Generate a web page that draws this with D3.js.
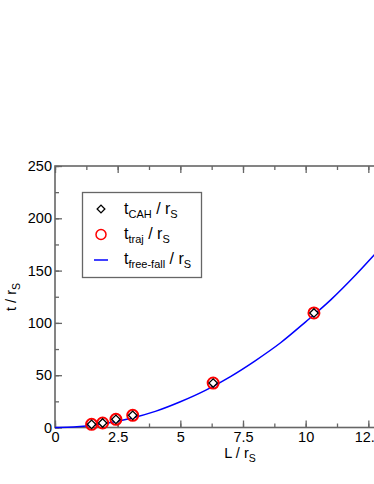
<!DOCTYPE html>
<html>
<head>
<meta charset="utf-8">
<script src="https://cdn.jsdelivr.net/npm/d3@7"></script>
<style>
  body { margin: 0; background: #fff; }
  text { font-family: "Liberation Sans", Arial, sans-serif; fill: #000; }
</style>
</head>
<body>
<div id="chart"></div>
<script>
// data
var cahL = [1.46, 1.90, 2.43, 3.10, 6.31, 10.33],
    cahT = [3.0, 4.3, 7.8, 11.6, 42.5, 109.5];
var trajL = [1.46, 1.90, 2.43, 3.10, 6.31, 10.33],
    trajT = [3.0, 4.3, 7.8, 11.6, 42.5, 109.5];
var ffL = [0, 0.5, 1, 1.5, 2, 3, 4, 5, 6, 7, 8, 9, 10, 11, 12, 13],
    ffT = [0, 0.2, 0.9, 2.1, 3.8, 8.6, 15.4, 24.6, 35.5, 48.7, 64, 81, 101, 122, 146, 172];
var xMajor = [0, 2.5, 5, 7.5, 10, 12.5, 15],
    xLabels = ["0", "2.5", "5", "7.5", "10", "12.5", "15"],
    yMajor = [0, 50, 100, 150, 200, 250];

var width = 374, height = 484;

var x = d3.scaleLinear().domain([0, 15]).range([55, 431]);
var y = d3.scaleLinear().domain([0, 250]).range([427.5, 166]);

var svg = d3.select('#chart').append('svg')
  .attr('width', width)
  .attr('height', height);

var axisColor = "#666";

function styleAxis(g) {
  g.select('.domain').remove();
  g.selectAll('.tick line').attr('stroke', axisColor).attr('stroke-width', 1.3);
  g.selectAll('.tick text').style('font-size', '14.5px').attr('fill', '#000');
}

var xMinor = d3.range(0, 15.01, 1.25);
var yMinor = d3.range(0, 250.1, 25);

// bottom axis
svg.append('g').attr('transform', 'translate(0,427.5)')
  .call(d3.axisBottom(x).tickValues(xMinor).tickSize(-4).tickFormat(''))
  .call(styleAxis);
svg.append('g').attr('transform', 'translate(0,427.5)')
  .call(d3.axisBottom(x).tickValues(xMajor).tickSize(-7).tickPadding(4)
    .tickFormat(function(d, i) { return xLabels[i]; }))
  .call(styleAxis);

// top axis
svg.append('g').attr('transform', 'translate(0,166)')
  .call(d3.axisTop(x).tickValues(xMinor).tickSize(-4).tickFormat(''))
  .call(styleAxis);
svg.append('g').attr('transform', 'translate(0,166)')
  .call(d3.axisTop(x).tickValues(xMajor).tickSize(-7).tickFormat(''))
  .call(styleAxis);

// left axis
svg.append('g').attr('transform', 'translate(55,0)')
  .call(d3.axisLeft(y).tickValues(yMinor).tickSize(-4).tickFormat(''))
  .call(styleAxis);
svg.append('g').attr('transform', 'translate(55,0)')
  .call(d3.axisLeft(y).tickValues(yMajor).tickSize(-7).tickPadding(3).tickFormat(d3.format('d')))
  .call(styleAxis);

// frame
svg.append('rect')
  .attr('x', x(0)).attr('y', y(250))
  .attr('width', x(15) - x(0)).attr('height', y(0) - y(250))
  .attr('fill', 'none')
  .attr('stroke', axisColor)
  .attr('stroke-width', 1.6);

// free-fall curve
var line = d3.line()
  .x(function(d) { return x(d[0]); })
  .y(function(d) { return y(d[1]); })
  .curve(d3.curveMonotoneX);

svg.append('path')
  .datum(ffL.map(function(l, i) { return [l, ffT[i]]; }))
  .attr('d', line)
  .attr('fill', 'none')
  .attr('stroke', '#0000ff')
  .attr('stroke-width', 1.5);

// markers
var diamond = d3.symbol().type(d3.symbolSquare).size(36)();

svg.selectAll('.traj')
  .data(trajL)
  .enter().append('circle')
  .attr('class', 'traj')
  .attr('cx', function(d) { return x(d); })
  .attr('cy', function(d, i) { return y(trajT[i]); })
  .attr('r', 5.5)
  .attr('fill', 'none')
  .attr('stroke', '#ff0000')
  .attr('stroke-width', 2);

svg.selectAll('.cah')
  .data(cahL)
  .enter().append('path')
  .attr('class', 'cah')
  .attr('d', diamond)
  .attr('transform', function(d, i) { return 'translate(' + x(d) + ',' + y(cahT[i]) + ') rotate(45)'; })
  .attr('fill', '#fff')
  .attr('stroke', '#000')
  .attr('stroke-width', 1.3);

// axis titles
var xt = svg.append('text')
  .attr('x', 240).attr('y', 458)
  .attr('text-anchor', 'middle')
  .style('font-size', '14.5px');
xt.append('tspan').text('L / r');
xt.append('tspan').attr('dy', 4).style('font-size', '10.5px').text('S');

var yt = svg.append('text')
  .attr('transform', 'translate(16,297) rotate(-90)')
  .attr('text-anchor', 'middle')
  .style('font-size', '14.5px');
yt.append('tspan').text('t / r');
yt.append('tspan').attr('dy', 4).style('font-size', '10.5px').text('S');

// legend
var legend = svg.append('g');
legend.append('rect')
  .attr('x', 82.5).attr('y', 192.5)
  .attr('width', 119).attr('height', 85)
  .attr('fill', '#fff')
  .attr('stroke', axisColor)
  .attr('stroke-width', 1.3);

legend.append('path')
  .attr('d', d3.symbol().type(d3.symbolSquare).size(30)())
  .attr('transform', 'translate(101,209) rotate(45)')
  .attr('fill', '#fff').attr('stroke', '#000').attr('stroke-width', 1.3);
legend.append('circle')
  .attr('cx', 101).attr('cy', 234.5).attr('r', 5)
  .attr('fill', 'none').attr('stroke', '#ff0000').attr('stroke-width', 1.5);
legend.append('line')
  .attr('x1', 94).attr('x2', 108).attr('y1', 260).attr('y2', 260)
  .attr('stroke', '#0000ff').attr('stroke-width', 1.5);

var legendRows = [
  {sub: 'CAH', y: 214},
  {sub: 'traj', y: 239},
  {sub: 'free-fall', y: 264}
];
legendRows.forEach(function(r) {
  var t = legend.append('text')
    .attr('x', 124).attr('y', r.y)
    .style('font-size', '16px');
  t.append('tspan').text('t');
  t.append('tspan').attr('dy', 4).style('font-size', '11px').text(r.sub);
  t.append('tspan').attr('dy', -4).text(' / r');
  t.append('tspan').attr('dy', 4).style('font-size', '11px').text('S');
});
</script>
</body>
</html>
